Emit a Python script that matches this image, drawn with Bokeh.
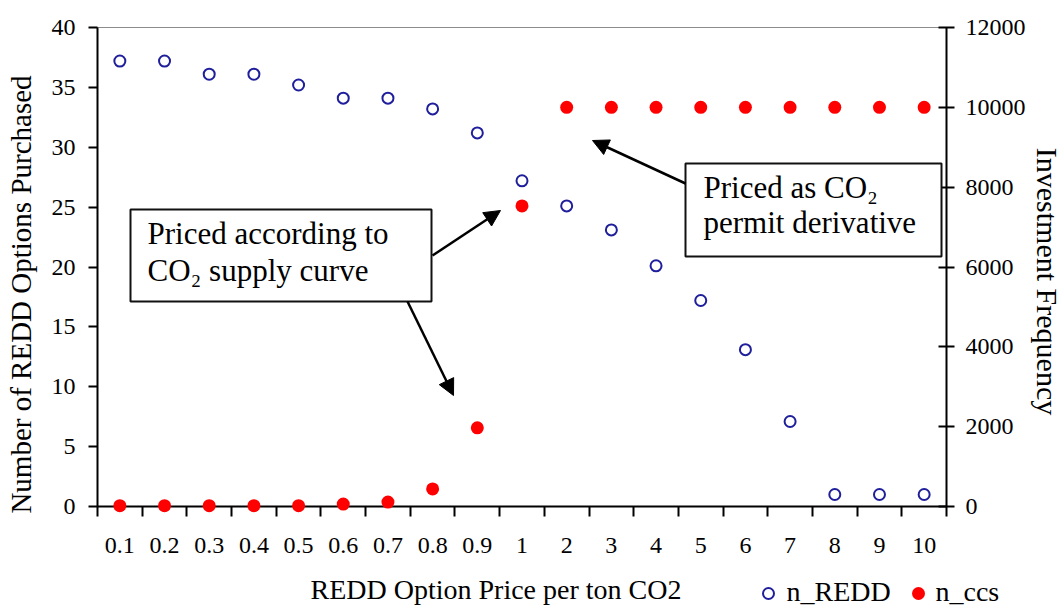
import math
import numpy as np
from bokeh.plotting import figure
from bokeh.layouts import column
from bokeh.core.properties import value
from bokeh.models import (Range1d, LinearAxis, FixedTicker, CustomJSTickFormatter,
                          BoxAnnotation, Label, Arrow, NormalHead, ColumnDataSource)
from bokeh.embed import file_html
from bokeh.resources import INLINE

# ---- data ----
categories = ["0.1", "0.2", "0.3", "0.4", "0.5", "0.6", "0.7", "0.8", "0.9",
              "1", "2", "3", "4", "5", "6", "7", "8", "9", "10"]
n_redd = [37.2, 37.2, 36.1, 36.1, 35.2, 34.1, 34.1, 33.2, 31.2,
          27.2, 25.1, 23.1, 20.1, 17.2, 13.1, 7.1, 1.0, 1.0, 1.0]
n_ccs = [20, 20, 20, 20, 20, 60, 110, 440, 1970,
         7530, 10000, 10000, 10000, 10000, 10000, 10000, 10000, 10000, 10000]
left_ticks = [0, 5, 10, 15, 20, 25, 30, 35, 40]
right_ticks = [0, 2000, 4000, 6000, 8000, 10000, 12000]
series_names = ["n_REDD", "n_ccs"]

x_title = "REDD Option Price per ton CO2"
left_title = "Number of REDD Options Purchased"
right_title = "Investment Frequency"

SERIF = "Liberation Serif"
BLUE = "#1f1f9c"
RED = "#ff0000"

ncat = len(categories)
xpos = [i + 0.5 for i in range(ncat)]

src_redd = ColumnDataSource(dict(x=xpos, y=n_redd, cat=categories))
src_ccs = ColumnDataSource(dict(x=xpos, y=n_ccs, cat=categories))

W = 1064
H_MAIN = 570
H_FOOT = 40
FL, FR = 97, 946  # plot-area left/right edge in the picture

p = figure(width=W, height=H_MAIN, x_range=Range1d(0, ncat), y_range=Range1d(0, 40),
           output_backend="svg", toolbar_location=None,
           min_border_left=FL, min_border_right=W - FR, min_border_top=27, min_border_bottom=64)
p.extra_y_ranges = {"right": Range1d(0, 12000)}
p.xgrid.visible = False
p.ygrid.visible = False
p.outline_line_color = "#8c8c8c"
p.outline_line_width = 1
p.background_fill_color = "white"
p.border_fill_color = "white"

# x axis
xa = p.xaxis[0]
xa.ticker = FixedTicker(ticks=xpos, minor_ticks=list(range(ncat + 1)))
xa.formatter = CustomJSTickFormatter(args=dict(labels=categories),
                                     code="return labels[Math.floor(tick)]")
xa.major_tick_out = 0
xa.major_tick_in = 0
xa.minor_tick_out = 10
xa.minor_tick_in = 0
xa.minor_tick_line_width = 2
xa.minor_tick_line_color = "black"
xa.axis_line_width = 2
xa.axis_line_color = "black"
xa.major_label_standoff = 21
xa.major_label_text_font = SERIF
xa.major_label_text_font_size = "24px"
xa.major_label_text_color = "black"

# left axis
ya = p.yaxis[0]
ya.ticker = FixedTicker(ticks=left_ticks)
ya.major_tick_out = 9
ya.major_tick_in = 0
ya.minor_tick_out = 0
ya.minor_tick_in = 0
ya.major_tick_line_width = 2
ya.major_tick_line_color = "black"
ya.axis_line_width = 2
ya.axis_line_color = "black"
ya.major_label_standoff = 13
ya.major_label_text_font = SERIF
ya.major_label_text_font_size = "24px"
ya.major_label_text_color = "black"

# right axis
ra = LinearAxis(y_range_name="right", ticker=FixedTicker(ticks=right_ticks))
ra.major_tick_out = 8
ra.major_tick_in = 8
ra.minor_tick_out = 0
ra.minor_tick_in = 0
ra.major_tick_line_width = 2
ra.major_tick_line_color = "black"
ra.axis_line_width = 2
ra.axis_line_color = "black"
ra.major_label_standoff = 11
ra.major_label_text_font = SERIF
ra.major_label_text_font_size = "24px"
ra.major_label_text_color = "black"
p.add_layout(ra, "right")

# data marks
r_redd = p.scatter(x="x", y="y", source=src_redd, marker="circle", size=11,
                   fill_color=None, line_color=BLUE, line_width=2, level="overlay")
r_ccs = p.scatter(x="x", y="y", source=src_ccs, y_range_name="right", marker="circle",
                  size=13, fill_color=RED, line_color=None, level="overlay")

# helpers: picture pixel -> data coordinates for annotations
def X(px):
    return (px - FL) / ((FR - FL) / ncat)

def Y(py):
    return (506 - py) / (479 / 40)

# annotation boxes
for (l, r, t, b) in [(130, 431, 209, 301), (685, 941, 163, 256)]:
    p.add_layout(BoxAnnotation(left=X(l), right=X(r), top=Y(t), bottom=Y(b),
                               fill_color="white", fill_alpha=1.0,
                               line_color="#111111", line_width=2, line_alpha=1.0))

SHIFT = 11  # baseline compensation
box_texts = [
    ("Priced according to", 147, 244),
    ("CO\u2082 supply curve", 147, 281),
    ("Priced as CO\u2082", 703, 198),
    ("permit derivative", 703, 233),
]
for txt, lx, by in box_texts:
    p.add_layout(Label(x=X(lx), y=Y(by - SHIFT), text=txt, text_font=SERIF,
                       text_font_size="31px", text_color="black",
                       text_baseline="alphabetic", text_align="left"))

# arrows
for (x0, y0, x1, y1) in [(432, 255, 500, 210), (407, 301, 453, 395), (685, 183, 592, 140)]:
    p.add_layout(Arrow(end=NormalHead(size=16, fill_color="black", line_color="black"),
                       x_start=X(x0), y_start=Y(y0), x_end=X(x1), y_end=Y(y1),
                       line_width=2.5, line_color="black"))

# y axis titles (unclipped overlay text)
p.text(x=[X(20)], y=[Y(294)], text=[left_title], angle=math.pi / 2, text_font=value(SERIF),
       text_font_size=value("29px"), text_color="black", text_align="center",
       text_baseline="middle", level="overlay")
p.text(x=[X(1047)], y=[Y(281)], text=[right_title], angle=-math.pi / 2, text_font=value(SERIF),
       text_font_size=value("30px"), text_color="black", text_align="center",
       text_baseline="alphabetic", level="overlay")

# ---- footer strip: x-axis title and legend (plot area aligned with the chart above) ----
f = figure(width=W, height=H_FOOT, x_range=Range1d(FL, FR), y_range=Range1d(H_FOOT, 0),
           output_backend="svg", toolbar_location=None, x_axis_location=None,
           y_axis_location=None, min_border=0, min_border_left=FL, min_border_right=W - FR)
f.xgrid.visible = False
f.ygrid.visible = False
f.outline_line_color = None
f.background_fill_color = "white"
f.border_fill_color = "white"

f.text(x=[495.5], y=[600 - H_MAIN - SHIFT], text=[x_title], text_font=value(SERIF),
       text_font_size=value("28px"), text_color="black", text_align="center",
       text_baseline="alphabetic", level="overlay")

# legend keys and labels
key_y = 593 - H_MAIN
f.scatter(x=[768], y=[key_y], marker="circle", size=11, fill_color=None,
          line_color=BLUE, line_width=2, level="overlay")
f.scatter(x=[918], y=[key_y], marker="circle", size=13, fill_color=RED,
          line_color=None, level="overlay")
f.text(x=[786, 935], y=[602 - H_MAIN - SHIFT] * 2, text=series_names, text_font=value(SERIF),
       text_font_size=value("28px"), text_color="black", text_align="left",
       text_baseline="alphabetic", level="overlay")

layout = column(p, f, spacing=0)
open("out.html", "w").write(file_html(layout, INLINE))
